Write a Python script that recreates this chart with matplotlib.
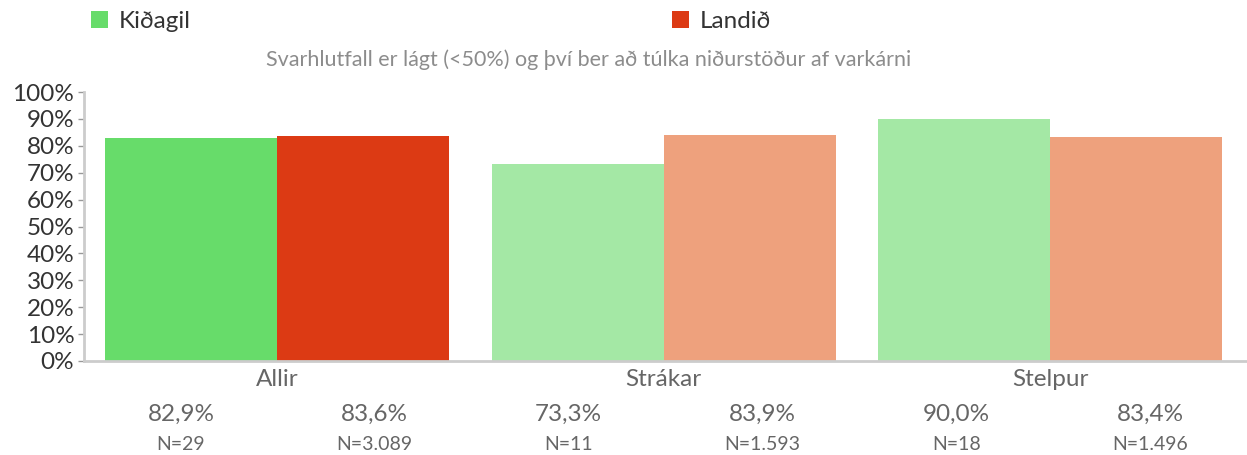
import matplotlib.pyplot as plt
import numpy as np

plt.rcParams['font.family'] = ['Lato', 'DejaVu Sans']

categories = ['Allir', 'Strákar', 'Stelpur']
series_names = ['Kiðagil', 'Landið']
kidagil = [82.9, 73.3, 90.0]
landid = [83.6, 83.9, 83.4]
n_kidagil = ['29', '11', '18']
n_landid = ['3.089', '1.593', '1.496']

# fyrsti hópur sterkir litir, hinir ljósari
col_kid = ['#67dc6a', '#a4e8a5', '#a4e8a5']
col_land = ['#dc3a14', '#eea17d', '#eea17d']

fig = plt.figure(figsize=(12.47, 4.55), dpi=100)
ax = fig.add_axes([0.0674, 0.2066, 0.9326, 0.591])

x = np.arange(len(categories))
w = 0.445
b1 = ax.bar(x - w / 2, kidagil, w, color=col_kid, linewidth=0)
b2 = ax.bar(x + w / 2, landid, w, color=col_land, linewidth=0)

ax.set_xlim(-0.5, 2.51)
ax.set_ylim(0, 100)
ax.set_yticks(np.arange(0, 101, 10))
ax.set_yticklabels([f'{v}%' for v in range(0, 101, 10)], fontsize=17.5, color='#333333')
ax.tick_params(axis='y', length=4, width=1, color='#999999', pad=3)
ax.set_xticks(x)
ax.set_xticklabels(categories, fontsize=17.5, color='#666666')
ax.tick_params(axis='x', length=0, pad=6)

for s in ['top', 'right']:
    ax.spines[s].set_visible(False)
for s in ['left', 'bottom']:
    ax.spines[s].set_color('#cccccc')
    ax.spines[s].set_linewidth(2)

# tafla undir grafinu: hlutfall og N
vals = []
ns = []
for i in range(len(categories)):
    vals += [kidagil[i], landid[i]]
    ns += [n_kidagil[i], n_landid[i]]
for j, (v, n) in enumerate(zip(vals, ns)):
    xc = (j + 0.5) / len(vals)
    ax.text(xc, -0.2, f'{v:.1f}%'.replace('.', ','), transform=ax.transAxes,
            ha='center', va='center', fontsize=17.5, color='#666666')
    ax.text(xc, -0.31, f'N={n}', transform=ax.transAxes,
            ha='center', va='center', fontsize=14, color='#666666')

fig.text(0.472, 0.868, 'Svarhlutfall er lágt (<50%) og því ber að túlka niðurstöður af varkárni',
         ha='center', va='center', fontsize=15.5, color='#8c8c8c')

leg1 = fig.legend([b1[0]], [series_names[0]], loc='center left', bbox_to_anchor=(0.073, 0.952),
                  frameon=False, fontsize=17.5, handlelength=0.7, handleheight=0.7,
                  handletextpad=0.45, borderaxespad=0, borderpad=0)
leg2 = fig.legend([b2[0]], [series_names[1]], loc='center left', bbox_to_anchor=(0.539, 0.952),
                  frameon=False, fontsize=17.5, handlelength=0.7, handleheight=0.7,
                  handletextpad=0.45, borderaxespad=0, borderpad=0)
for t in leg1.get_texts() + leg2.get_texts():
    t.set_color('#333333')

fig.savefig('out.png', dpi=100)
